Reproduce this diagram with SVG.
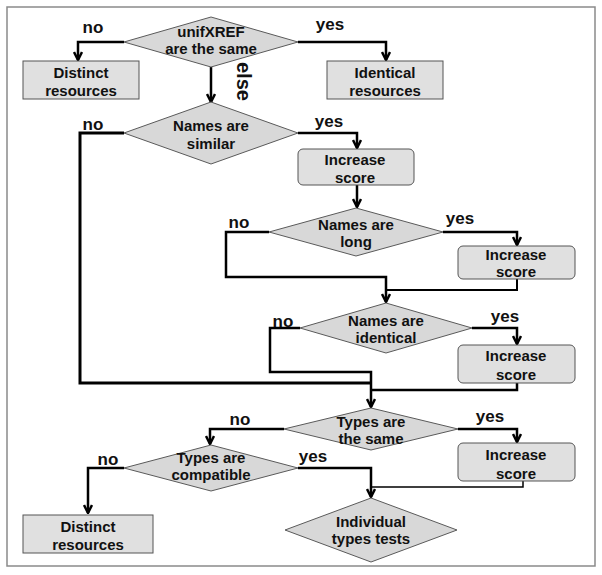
<svg xmlns="http://www.w3.org/2000/svg" width="602" height="575" viewBox="0 0 602 575">
<style>
.frame{fill:#fff;stroke:#8a8a8a;stroke-width:1.5}
.dia{fill:#d8d8d8;stroke:#5a5a5a;stroke-width:1}
.box{fill:#e0e0e0;stroke:#555;stroke-width:1}
.t{font-family:"Liberation Sans",Arial,sans-serif;font-weight:bold;font-size:15px;fill:#111;text-anchor:middle}
.lbl{font-family:"Liberation Sans",Arial,sans-serif;font-weight:bold;font-size:17px;fill:#111;text-anchor:middle}
.c{fill:none;stroke:#000;stroke-width:2.5;stroke-linejoin:miter}
.ca{marker-end:url(#arr)}
.thin{stroke-width:1.5}
</style>
<defs>
<marker id="arr" viewBox="0 0 10 10" refX="9" refY="5" markerWidth="10" markerHeight="10" markerUnits="userSpaceOnUse" orient="auto">
<path d="M1,1 L9,5 L1,9" fill="none" stroke="#000" stroke-width="2.5"/>
</marker>
</defs>
<rect class="frame" x="7" y="7" width="588" height="559"/>

<g id="connectors">
<polyline class="c ca" points="124,42 78,42 78,60"/>
<polyline class="c ca" points="298,42 386,42 386,60"/>
<polyline class="c ca" points="211,67 211,102"/>
<polyline class="c" style="stroke-width:3" points="124,133 80,133 80,383 371,383"/>
<polyline class="c ca" points="298,133 357,133 357,148"/>
<polyline class="c ca" points="357,185 357,207"/>
<polyline class="c ca" points="269,232 226,232 226,277 386,277 386,302"/>
<polyline class="c ca" points="443,232 517,232 517,245"/>
<polyline class="c" style="stroke-width:2" points="517,279 517,290 386,290"/>
<polyline class="c ca" points="300,328 270,328 270,372 371,372 371,407"/>
<polyline class="c ca" points="472,328 517,328 517,344"/>
<polyline class="c" points="517,383 517,390 371,390"/>
<polyline class="c ca" points="284,429 210,429 210,444"/>
<polyline class="c ca" points="458,429 517,429 517,442"/>
<polyline class="c thin" points="523,481 523,487 370,487"/>
<polyline class="c ca" points="124,468 88,468 88,513"/>
<polyline class="c ca" points="298,468 371,468 371,497"/>
</g>

<g id="labels">
<text class="lbl" x="93" y="33">no</text>
<text class="lbl" x="330" y="30">yes</text>
<text class="lbl" transform="translate(237,62) rotate(90)" style="font-size:20px;text-anchor:start">else</text>
<text class="lbl" x="93" y="130">no</text>
<text class="lbl" x="329" y="127">yes</text>
<text class="lbl" x="239" y="228">no</text>
<text class="lbl" x="460" y="224">yes</text>
<text class="lbl" x="283" y="327">no</text>
<text class="lbl" x="505" y="322">yes</text>
<text class="lbl" x="240" y="425">no</text>
<text class="lbl" x="490" y="422">yes</text>
<text class="lbl" x="108" y="465">no</text>
<text class="lbl" x="313" y="462">yes</text>
</g>

<g id="d-unifxref">
<polygon class="dia" points="211,17 298,42 211,67 124,42"/>
<text class="t" x="211" y="37">unifXREF</text>
<text class="t" x="211" y="54">are the same</text>
</g>
<g id="b-distinct1">
<rect class="box" x="23" y="61" width="116" height="38"/>
<text class="t" x="81" y="78">Distinct</text>
<text class="t" x="81" y="96">resources</text>
</g>
<g id="b-identical">
<rect class="box" x="327" y="61" width="116" height="38"/>
<text class="t" x="385" y="78">Identical</text>
<text class="t" x="385" y="96">resources</text>
</g>
<g id="d-names-similar">
<polygon class="dia" points="211,102 298,133 211,164 124,133"/>
<text class="t" x="211" y="131">Names are</text>
<text class="t" x="211" y="149">similar</text>
</g>
<g id="b-score1">
<rect class="box" x="298" y="149" width="116" height="36" rx="5"/>
<text class="t" x="355" y="165">Increase</text>
<text class="t" x="355" y="183">score</text>
</g>
<g id="d-names-long">
<polygon class="dia" points="356,208 443,232 356,256 269,232"/>
<text class="t" x="356" y="230">Names are</text>
<text class="t" x="356" y="247">long</text>
</g>
<g id="b-score2">
<rect class="box" x="458" y="246" width="117" height="33" rx="5"/>
<text class="t" x="516" y="260">Increase</text>
<text class="t" x="516" y="277">score</text>
</g>
<g id="d-names-identical">
<polygon class="dia" points="386,303 472,328 386,353 300,328"/>
<text class="t" x="386" y="326">Names are</text>
<text class="t" x="386" y="343">identical</text>
</g>
<g id="b-score3">
<rect class="box" x="458" y="345" width="117" height="38" rx="5"/>
<text class="t" x="516" y="361">Increase</text>
<text class="t" x="516" y="380">score</text>
</g>
<g id="d-types-same">
<polygon class="dia" points="371,408 458,429 371,450 284,429"/>
<text class="t" x="371" y="427">Types are</text>
<text class="t" x="371" y="444">the same</text>
</g>
<g id="b-score4">
<rect class="box" x="458" y="443" width="117" height="38" rx="5"/>
<text class="t" x="516" y="460">Increase</text>
<text class="t" x="516" y="479">score</text>
</g>
<g id="d-types-compatible">
<polygon class="dia" points="211,445 298,468 211,491 124,468"/>
<text class="t" x="211" y="463">Types are</text>
<text class="t" x="211" y="480">compatible</text>
</g>
<g id="b-distinct2">
<rect class="box" x="23" y="515" width="130" height="38"/>
<text class="t" x="88" y="532">Distinct</text>
<text class="t" x="88" y="550">resources</text>
</g>
<g id="d-individual">
<polygon class="dia" points="371,498 457,530 371,562 285,530"/>
<text class="t" x="371" y="527">Individual</text>
<text class="t" x="371" y="544">types tests</text>
</g>
</svg>
